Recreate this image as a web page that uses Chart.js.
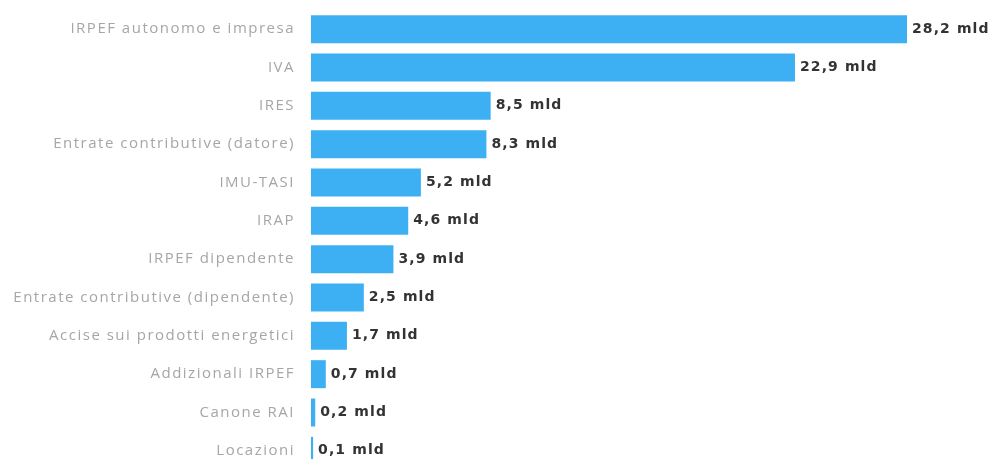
<!DOCTYPE html>
<html>
<head>
<meta charset="utf-8">
<script src="https://cdn.jsdelivr.net/npm/chart.js@4"></script>
<style>
  html, body { margin: 0; padding: 0; background: #fff; overflow: hidden; }
  #wrap { width: 992px; height: 480px; position: relative; }
</style>
</head>
<body>
<div id="wrap"><canvas id="chart"></canvas></div>
<script>
'use strict';

const categories = [
  'IRPEF autonomo e impresa', 'IVA', 'IRES', 'Entrate contributive (datore)',
  'IMU-TASI', 'IRAP', 'IRPEF dipendente', 'Entrate contributive (dipendente)',
  'Accise sui prodotti energetici', 'Addizionali IRPEF', 'Canone RAI', 'Locazioni'
];
const values = [28.2, 22.9, 8.5, 8.3, 5.2, 4.6, 3.9, 2.5, 1.7, 0.7, 0.2, 0.1];
const unit = 'mld';

//Wider letters, like the original
const spacing = {
  id: 'spacing',
  beforeDraw(chart) { chart.ctx.letterSpacing = '1.5px'; }
};

//Write the value after each bar
const valueLabels = {
  id: 'valueLabels',
  afterDatasetsDraw(chart) {
    const ctx = chart.ctx;
    const meta = chart.getDatasetMeta(0);
    ctx.save();
    ctx.letterSpacing = '1.1px';
    ctx.font = 'bold 14px "DejaVu Sans"';
    ctx.fillStyle = '#333';
    ctx.textBaseline = 'middle';
    ctx.textAlign = 'left';
    meta.data.forEach((bar, i) => {
      const txt = values[i].toFixed(1).replace('.', ',') + ' ' + unit;
      ctx.fillText(txt, bar.x + 5, bar.y);
    });
    ctx.restore();
  }
};

new Chart(document.getElementById('chart'), {
  type: 'bar',
  data: {
    labels: categories,
    datasets: [{
      data: values,
      backgroundColor: '#3db0f3',
      borderWidth: 0,
      categoryPercentage: 1,
      barPercentage: 0.73
    }]
  },
  options: {
    indexAxis: 'y',
    responsive: true,
    maintainAspectRatio: false,
    animation: false,
    layout: { padding: { top: 10, bottom: 10, right: 85, left: 0 } },
    plugins: { legend: { display: false }, tooltip: { enabled: false } },
    scales: {
      x: { display: false, min: 0, max: 28.2 },
      y: {
        grid: { display: false },
        border: { display: false },
        ticks: { color: '#a6a6a6', padding: 8, font: { family: 'Open Sans', size: 15 } },
        afterFit(scale) {
          scale.width = 311;
          scale.paddingTop = 0;
          scale.paddingBottom = 0;
        }
      }
    }
  },
  plugins: [spacing, valueLabels]
});
</script>
</body>
</html>
